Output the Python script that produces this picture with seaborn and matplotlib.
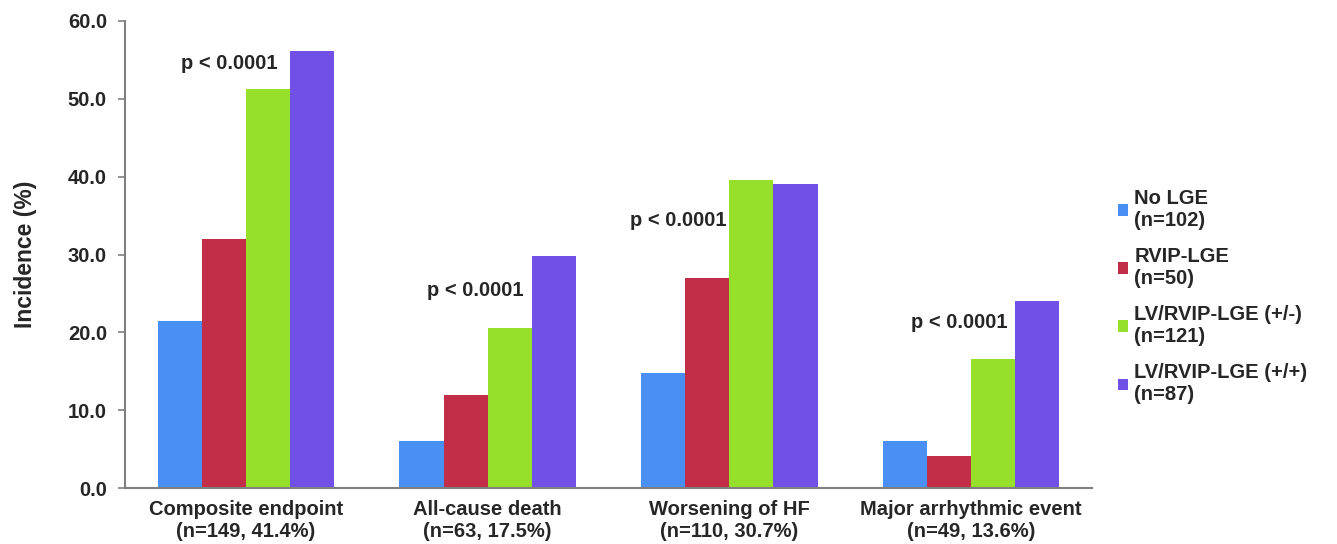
import matplotlib
matplotlib.use("Agg")
import matplotlib.pyplot as plt
import seaborn as sns
import pandas as pd
from matplotlib.patches import Patch

sns.set_style("white")
plt.rcParams["font.family"] = ["Liberation Sans", "DejaVu Sans"]
plt.rcParams["font.weight"] = "bold"

outcomes = ["Composite endpoint\n(n=149, 41.4%)", "All-cause death\n(n=63, 17.5%)",
            "Worsening of HF\n(n=110, 30.7%)", "Major arrhythmic event\n(n=49, 13.6%)"]
groups = ["No LGE\n(n=102)", "RVIP-LGE\n(n=50)", "LV/RVIP-LGE (+/-)\n(n=121)", "LV/RVIP-LGE (+/+)\n(n=87)"]
noLge = [21.5, 6.0, 14.8, 6.0]
rvipLge = [32.0, 12.0, 27.0, 4.1]
lvRvipPm = [51.2, 20.6, 39.6, 16.6]
lvRvipPp = [56.2, 29.8, 39.1, 24.0]
colors = ["#4a8ff3", "#c22d47", "#96e02b", "#7150e8"]
pTexts = ["p < 0.0001"] * 4
pX = [-0.07, 0.95, 1.79, 2.95]
pY = [54.6, 25.4, 34.4, 21.2]

rows = []
for g, vals in zip(groups, [noLge, rvipLge, lvRvipPm, lvRvipPp]):
    for o, v in zip(outcomes, vals):
        rows.append({"Outcome": o, "Group": g, "Incidence": v})
df = pd.DataFrame(rows)

fig = plt.figure(figsize=(13.37, 5.44), dpi=100)
ax = fig.add_axes([125 / 1337, 56 / 544, 967 / 1337, 467 / 544])
sns.barplot(data=df, x="Outcome", y="Incidence", hue="Group", order=outcomes, hue_order=groups,
            palette=colors, width=0.73, saturation=1, gap=0, linewidth=0, ax=ax, legend=False)

ax.set_xlim(-0.5, 3.5)
ax.set_ylim(0, 60)
ax.set_yticks(range(0, 61, 10))
ax.set_yticklabels([f"{t:.1f}" for t in range(0, 61, 10)], fontsize=14.5, fontweight="bold")
ax.tick_params(axis="y", left=True, direction="out", length=5, color="#808080", width=1.2, pad=8)
ax.tick_params(axis="x", bottom=False, labelsize=14.5, pad=5)
for lbl in ax.get_xticklabels():
    lbl.set_fontweight("bold")
ax.set_xlabel("")
ax.set_ylabel("Incidence (%)", fontsize=16.5, fontweight="bold", labelpad=22)
sns.despine(ax=ax)
ax.spines["left"].set_color("#808080")
ax.spines["bottom"].set_color("#808080")
ax.spines["left"].set_linewidth(1.5)
ax.spines["bottom"].set_linewidth(1.5)

for t, x, y in zip(pTexts, pX, pY):
    ax.text(x, y, t, ha="center", va="center", fontsize=14.5, fontweight="bold")

handles = [Patch(facecolor=c, edgecolor="none") for c in colors]
fig.legend(handles, groups, loc="upper left", bbox_to_anchor=(1100 / 1337, 1 - 171 / 544),
           frameon=False, handlelength=0.5, handleheight=0.5, handletextpad=0.3,
           labelspacing=0.85, prop={"weight": "bold", "size": 14.5})

fig.savefig("out.png", dpi=100)
